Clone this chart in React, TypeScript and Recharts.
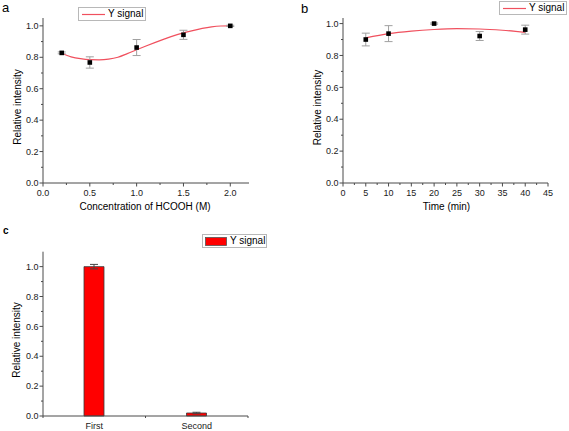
import React from 'react';
import { ComposedChart, BarChart, Bar, Line, Scatter, XAxis, YAxis, ErrorBar, Legend, Label } from 'recharts';

const FONT = '"Liberation Sans", Arial, sans-serif';
const FIT_RED = '#f0505e';
const AXIS = '#4a4a4a';
const TICK_TEXT = '#1a1a1a';

// panel a: effect of HCOOH concentration
const hcoohConc = [0.2, 0.5, 1.0, 1.5, 2.0];
const hcoohSignal = [0.828, 0.767, 0.862, 0.943, 1.0];
const hcoohError = [0.006, 0.036, 0.051, 0.029, 0.004];
const hcoohFitX = [0.2, 0.3, 0.4, 0.5, 0.6, 0.7, 0.8, 0.9, 1.0, 1.1, 1.2, 1.3, 1.4, 1.5, 1.6, 1.7, 1.8, 1.9, 2.0];
const hcoohFitY = [0.824, 0.803, 0.791, 0.785, 0.784, 0.788, 0.8, 0.823, 0.848, 0.872, 0.895, 0.917, 0.938, 0.955, 0.97, 0.984, 0.994, 0.999, 1.0];
const hcoohXTicks = [0, 0.25, 0.5, 0.75, 1.0, 1.25, 1.5, 1.75, 2.0];

// panel b: effect of time
const timeMin = [5, 10, 20, 30, 40];
const timeSignal = [0.9, 0.937, 1.0, 0.922, 0.962];
const timeError = [0.04, 0.05, 0.004, 0.028, 0.028];
const timeFitX = [5, 10, 15, 20, 25, 30, 35, 40];
const timeFitY = [0.91, 0.937, 0.953, 0.963, 0.968, 0.966, 0.958, 0.945];
const timeXTicks = [0, 2.5, 5, 7.5, 10, 12.5, 15, 17.5, 20, 22.5, 25, 27.5, 30, 32.5, 35, 37.5, 40, 42.5, 45];

// panel c: reuse
const cycleNames = ['First', 'Second'];
const cycleSignal = [1.0, 0.02];
const cycleError = [0.015, 0.005];
const cycleXTicks = [0.5, 1, 1.5, 2, 2.5];

const yTicks = [0, 0.1, 0.2, 0.3, 0.4, 0.5, 0.6, 0.7, 0.8, 0.9, 1.0];

const pointsA = hcoohConc.map((x, i) => ({ x, y: hcoohSignal[i], err: hcoohError[i] }));
const fitA = hcoohFitX.map((x, i) => ({ x, y: hcoohFitY[i] }));
const pointsB = timeMin.map((x, i) => ({ x, y: timeSignal[i], err: timeError[i] }));
const fitB = timeFitX.map((x, i) => ({ x, y: timeFitY[i] }));
const cycleData = cycleNames.map((name, i) => ({ x: i + 1, name, y: cycleSignal[i], err: cycleError[i] }));

const onStep = (v: number, step: number) => Math.abs(v / step - Math.round(v / step)) < 1e-6;

function xTick(isMajor: (v: number) => boolean, fmt: (v: number) => string, showLine = (v: number) => true) {
  return (props: any) => {
    const { x, y, payload } = props;
    const v = payload.value;
    const major = isMajor(v);
    return (
      <g>
        {showLine(v) && <line x1={x} x2={x} y1={y} y2={y + (major ? 3.5 : 2)} stroke={AXIS} strokeWidth={1} />}
        {major && (
          <text x={x} y={y + 13.3} textAnchor="middle" fontSize={9} fill={TICK_TEXT} fontFamily={FONT}>
            {fmt(v)}
          </text>
        )}
      </g>
    );
  };
}

const yTick = (props: any) => {
  const { x, y, payload } = props;
  const v = payload.value;
  const major = onStep(v, 0.2);
  return (
    <g>
      <line x1={x} x2={x - (major ? 3.5 : 2)} y1={y} y2={y} stroke={AXIS} strokeWidth={1} />
      {major && (
        <text x={x - 4.5} y={y} dy={3.2} textAnchor="end" fontSize={9} fill={TICK_TEXT} fontFamily={FONT}>
          {v.toFixed(1)}
        </text>
      )}
    </g>
  );
};

const square = (props: any) => {
  const { cx, cy } = props;
  return <rect x={cx - 2.3} y={cy - 2.3} width={4.6} height={4.6} fill="#000" />;
};

const yTitle = (x: number, y: number) => () => (
  <text x={x} y={y} transform={`rotate(-90 ${x} ${y})`} textAnchor="middle" dominantBaseline="central" fontSize={10} fontFamily={FONT} fill="#000">
    Relative intensity
  </text>
);

const xTitle = (text: string, x: number, y: number) => () => (
  <text x={x} y={y} textAnchor="middle" fontSize={10} fontFamily={FONT} fill="#000">
    {text}
  </text>
);

const lineLegend = () => (
  <div style={{ width: 66, height: 12, border: '1px solid #b8b8b8', background: '#fff', display: 'flex', alignItems: 'center', fontFamily: FONT, fontSize: 10, color: '#000' }}>
    <svg width={23} height={12} style={{ marginLeft: 3 }}>
      <line x1={0} x2={23} y1={6.5} y2={6.5} stroke={FIT_RED} strokeWidth={1.2} />
    </svg>
    <span style={{ marginLeft: 3, lineHeight: '12px' }}>Y signal</span>
  </div>
);

const barLegend = () => (
  <div style={{ width: 63, height: 12, border: '1px solid #b8b8b8', background: '#fff', display: 'flex', alignItems: 'center', fontFamily: FONT, fontSize: 10, color: '#000' }}>
    <svg width={22} height={10} style={{ marginLeft: 2 }}>
      <rect x={0.5} y={1.5} width={21} height={8} fill="#ff0000" stroke="#555" strokeWidth={0.8} />
    </svg>
    <span style={{ marginLeft: 3, lineHeight: '12px' }}>Y signal</span>
  </div>
);

const panelLabel = (text: string, left: number, top: number, size: number, bold = false) => (
  <div style={{ position: 'absolute', left, top, fontFamily: FONT, fontSize: size, fontWeight: bold ? 700 : 400, lineHeight: 1, color: '#000' }}>
    {text}
  </div>
);

export default function App() {
  return (
    <div style={{ position: 'absolute', left: 0, top: 0, width: 569, height: 431, background: '#fff', overflow: 'hidden' }}>
      {panelLabel('a', 2, 1, 13)}
      {panelLabel('b', 301, 2, 13)}
      {panelLabel('c', 3, 226, 10, true)}

      <div style={{ position: 'absolute', left: 0, top: 0 }}>
        <ComposedChart width={260} height={215} margin={{ top: 18, right: 11, bottom: 0, left: 0 }}>
          <XAxis type="number" dataKey="x" domain={[0, 2.2]} ticks={hcoohXTicks} interval={0} tickSize={0} tickMargin={0}
            tickLine={false} stroke={AXIS} height={32} tick={xTick((v) => onStep(v, 0.5), (v) => v.toFixed(1))}>
            <Label content={xTitle('Concentration of HCOOH (M)', 145, 210)} />
          </XAxis>
          <YAxis type="number" dataKey="y" domain={[0, 1.05]} ticks={yTicks} interval={0} tickSize={0} tickMargin={0}
            tickLine={false} stroke={AXIS} width={43} tick={yTick}>
            <Label content={yTitle(17.5, 107)} />
          </YAxis>
          <Legend layout="vertical" align="center" verticalAlign="middle" content={lineLegend}
            wrapperStyle={{ left: 78, top: 7, width: 68, height: 14 }} />
          <Line data={fitA} dataKey="y" name="Y signal" type="monotone" stroke={FIT_RED} strokeWidth={1.2} dot={false} isAnimationActive={false} />
          <Scatter data={pointsA} dataKey="y" fill="#000" shape={square} legendType="none" isAnimationActive={false}>
            <ErrorBar dataKey="err" direction="y" width={4} stroke="#a0a0a0" strokeWidth={1} />
          </Scatter>
        </ComposedChart>
      </div>

      <div style={{ position: 'absolute', left: 280, top: 0 }}>
        <ComposedChart width={289} height={215} margin={{ top: 18, right: 21, bottom: 0, left: 0 }}>
          <XAxis type="number" dataKey="x" domain={[0, 45]} ticks={timeXTicks} interval={0} tickSize={0} tickMargin={0}
            tickLine={false} stroke={AXIS} height={32} tick={xTick((v) => onStep(v, 5), (v) => String(v))}>
            <Label content={xTitle('Time (min)', 166.5, 210)} />
          </XAxis>
          <YAxis type="number" dataKey="y" domain={[0, 1.035]} ticks={yTicks} interval={0} tickSize={0} tickMargin={0}
            tickLine={false} stroke={AXIS} width={63} tick={yTick}>
            <Label content={yTitle(37, 107.5)} />
          </YAxis>
          <Legend layout="vertical" align="center" verticalAlign="middle" content={lineLegend}
            wrapperStyle={{ left: 219, top: 1, width: 68, height: 14 }} />
          <Line data={fitB} dataKey="y" name="Y signal" type="monotone" stroke={FIT_RED} strokeWidth={1.2} dot={false} isAnimationActive={false} />
          <Scatter data={pointsB} dataKey="y" fill="#000" shape={square} legendType="none" isAnimationActive={false}>
            <ErrorBar dataKey="err" direction="y" width={4} stroke="#a0a0a0" strokeWidth={1} />
          </Scatter>
        </ComposedChart>
      </div>

      <div style={{ position: 'absolute', left: 0, top: 220 }}>
        <BarChart width={260} height={211} data={cycleData} margin={{ top: 31.7, right: 12, bottom: 0, left: 0 }}>
          <XAxis type="number" dataKey="x" domain={[0.5, 2.5]} ticks={cycleXTicks} interval={0} tickSize={0} tickMargin={0}
            tickLine={false} stroke={AXIS} height={15}
            tick={xTick((v) => onStep(v, 1), (v) => cycleNames[Math.round(v) - 1], (v) => !onStep(v, 1))} />
          <YAxis type="number" domain={[0, 1.1]} ticks={yTicks} interval={0} tickSize={0} tickMargin={0}
            tickLine={false} stroke={AXIS} width={43} tick={yTick}>
            <Label content={yTitle(16.7, 120)} />
          </YAxis>
          <Legend layout="vertical" align="center" verticalAlign="middle" content={barLegend}
            wrapperStyle={{ left: 202, top: 14, width: 65, height: 14 }} />
          <Bar dataKey="y" name="Y signal" barSize={20} fill="#ff0000" stroke="#3a3a3a" strokeWidth={0.8} isAnimationActive={false}>
            <ErrorBar dataKey="err" width={4} stroke="#444" strokeWidth={1} />
          </Bar>
        </BarChart>
      </div>
    </div>
  );
}
